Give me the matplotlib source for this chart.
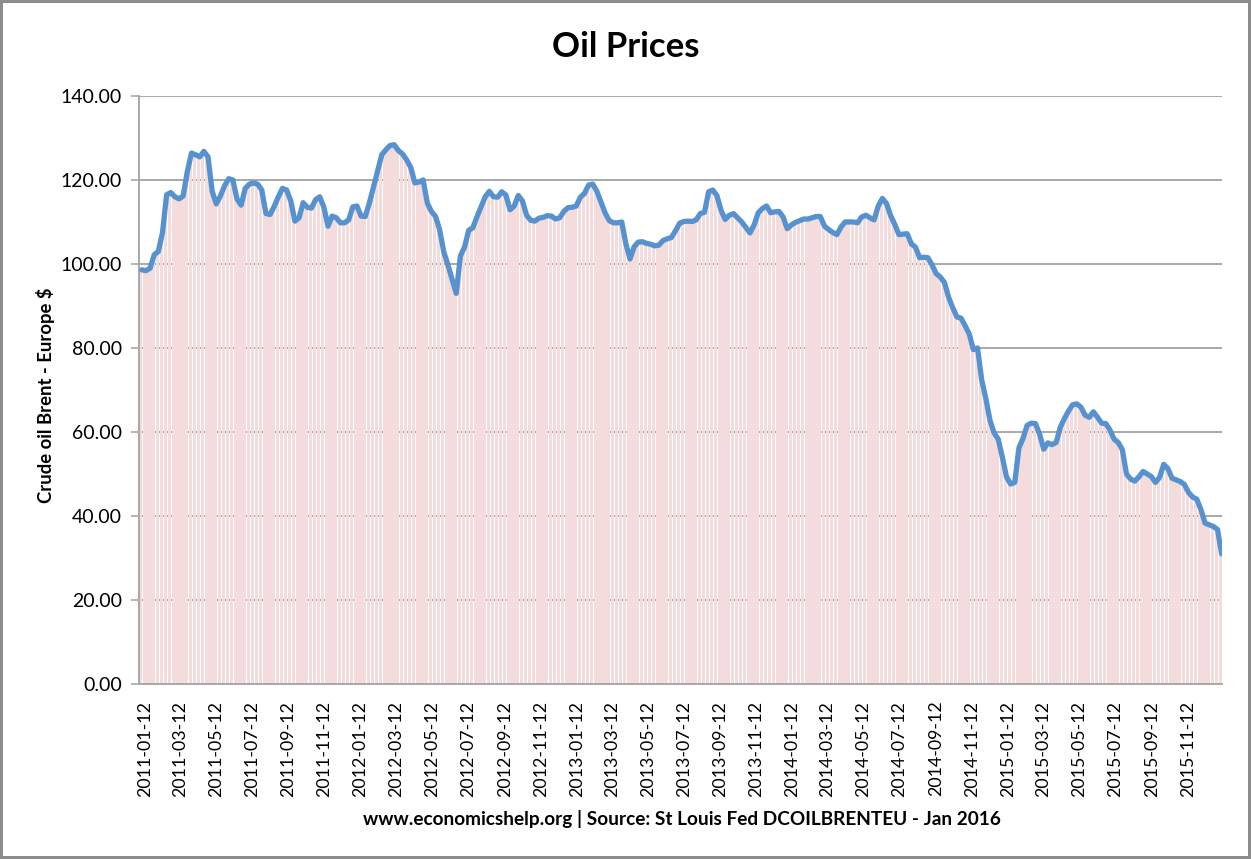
import matplotlib
matplotlib.use("Agg")
import matplotlib.pyplot as plt
import pandas as pd

# Weekly readings of Brent crude (USD), Friday of each week from 2011-01-07
start_date = "2011-01-07"
prices = [
    98.6, 98.4, 99.0, 102.2, 103.0, 107.5, 116.5, 117.0, 116.0, 115.5,
    116.2, 122.0, 126.4, 126.0, 125.5, 126.8, 125.5, 117.3, 114.3, 116.2,
    118.6, 120.3, 120.0, 115.5, 114.0, 118.0, 119.0, 119.3, 119.0, 117.6,
    112.0, 111.8, 113.7, 116.0, 118.0, 117.6, 115.0, 110.2, 111.0, 114.6,
    113.5, 113.3, 115.3, 116.0, 113.5, 109.0, 111.4, 111.0, 109.8, 109.8,
    110.5, 113.6, 113.8, 111.4, 111.3, 114.5, 118.3, 122.0, 126.0, 127.2,
    128.2, 128.4, 127.0, 126.2, 124.8, 123.0, 119.3, 119.5, 120.0, 114.5,
    112.5, 111.3, 108.1, 102.8, 99.8, 96.3, 93.0, 101.9, 104.0, 108.0,
    108.6, 111.2, 113.6, 116.0, 117.3, 116.0, 115.9, 117.2, 116.4, 112.9,
    113.8, 116.3, 115.0, 111.6, 110.4, 110.2, 110.9, 111.1, 111.5, 111.4,
    110.7, 111.0, 112.5, 113.4, 113.5, 113.8, 115.9, 116.8, 118.8, 119.0,
    117.3, 114.7, 112.1, 110.3, 109.8, 109.8, 110.0, 104.8, 101.2, 104.1,
    105.2, 105.3, 104.9, 104.7, 104.3, 104.5, 105.6, 106.0, 106.3, 107.9,
    109.7, 110.1, 110.2, 110.1, 110.5, 112.0, 112.3, 117.2, 117.6, 116.3,
    112.8, 110.6, 111.6, 112.0, 111.0, 110.0, 108.7, 107.4, 109.3, 112.2,
    113.2, 113.8, 112.2, 112.4, 112.5, 111.2, 108.4, 109.3, 109.9, 110.3,
    110.7, 110.7, 111.0, 111.3, 111.3, 109.0, 108.2, 107.5, 107.0, 108.8,
    110.0, 110.0, 110.0, 109.8, 111.2, 111.6, 111.0, 110.5, 113.8, 115.6,
    114.4, 111.5, 109.4, 107.0, 107.1, 107.2, 104.8, 104.0, 101.5, 101.6,
    101.5, 99.8, 97.7, 96.9, 95.6, 92.1, 89.6, 87.4, 87.1, 85.3,
    83.3, 79.6, 80.0, 72.4, 68.0, 62.8, 59.8, 58.3, 54.0, 49.3,
    47.6, 48.0, 56.2, 58.5, 61.6, 62.1, 62.0, 59.5, 55.9, 57.4,
    57.0, 57.5, 61.1, 63.2, 65.0, 66.5, 66.7, 65.9, 64.0, 63.5,
    64.8, 63.5, 62.1, 62.0, 60.5, 58.3, 57.5, 55.8, 50.0, 48.8,
    48.3, 49.3, 50.6, 50.0, 49.4, 48.0, 49.2, 52.3, 51.3, 49.0,
    48.6, 48.2, 47.5, 45.6, 44.5, 44.0, 41.5, 38.3, 37.9, 37.5,
    36.8, 31.0,
]
dates = pd.date_range(start_date, periods=len(prices), freq="7D")

title = "Oil Prices"
y_label = "Crude oil Brent - Europe $"
footer = "www.economicshelp.org | Source: St Louis Fed DCOILBRENTEU - Jan 2016"
tick_dates = pd.date_range("2011-01-01", "2015-11-01", freq="2MS") + pd.Timedelta(days=11)
y_ticks = [0, 20, 40, 60, 80, 100, 120, 140]

plt.rcParams["font.family"] = ["Lato", "DejaVu Sans"]

fig = plt.figure(figsize=(12.51, 8.59), dpi=100, linewidth=3, edgecolor="#8c8c8c")
ax = fig.add_axes([0.111, 0.2037, 0.866, 0.6846])

grid_col = "#a8a8a8"
for yv in y_ticks[1:]:
    ax.axhline(yv, color=grid_col, lw=1.4, zorder=0)

# pink weekly columns (Mon-Fri), white gaps for weekends
ax.bar(dates - pd.Timedelta(days=4.8), prices, width=5.8, align="edge",
       color="#f5dcdc", edgecolor="none", zorder=1)
ax.plot(dates, prices, color="#5592cf", lw=3.8, solid_joinstyle="round",
        solid_capstyle="round", zorder=3)

ax.set_ylim(0, 140)
ax.set_xlim(pd.Timestamp("2011-01-02"), pd.Timestamp("2016-01-09"))
ax.set_yticks(y_ticks)
ax.set_yticklabels([f"{v:.2f}" for v in y_ticks], fontsize=14)
ax.set_xticks(tick_dates)
ax.set_xticklabels([d.strftime("%Y-%m-%d") for d in tick_dates], rotation=90, fontsize=12.8)
ax.tick_params(axis="y", length=6, color=grid_col, width=1.2, pad=6)
ax.tick_params(axis="x", length=0, pad=12)

for s in ["top", "right"]:
    ax.spines[s].set_visible(False)
for s in ["left", "bottom"]:
    ax.spines[s].set_color(grid_col)
    ax.spines[s].set_linewidth(1.4)

fig.text(0.5, 0.945, title, ha="center", va="center", fontsize=25, fontweight="bold")
fig.text(0.036, 0.54, y_label, ha="center", va="center", rotation=90,
         fontsize=13.3, fontweight="bold")
fig.text(0.545, 0.047, footer, ha="center", va="center", fontsize=13.7, fontweight="bold")

fig.savefig("out.png", dpi=100, edgecolor=fig.get_edgecolor(), facecolor="white")
